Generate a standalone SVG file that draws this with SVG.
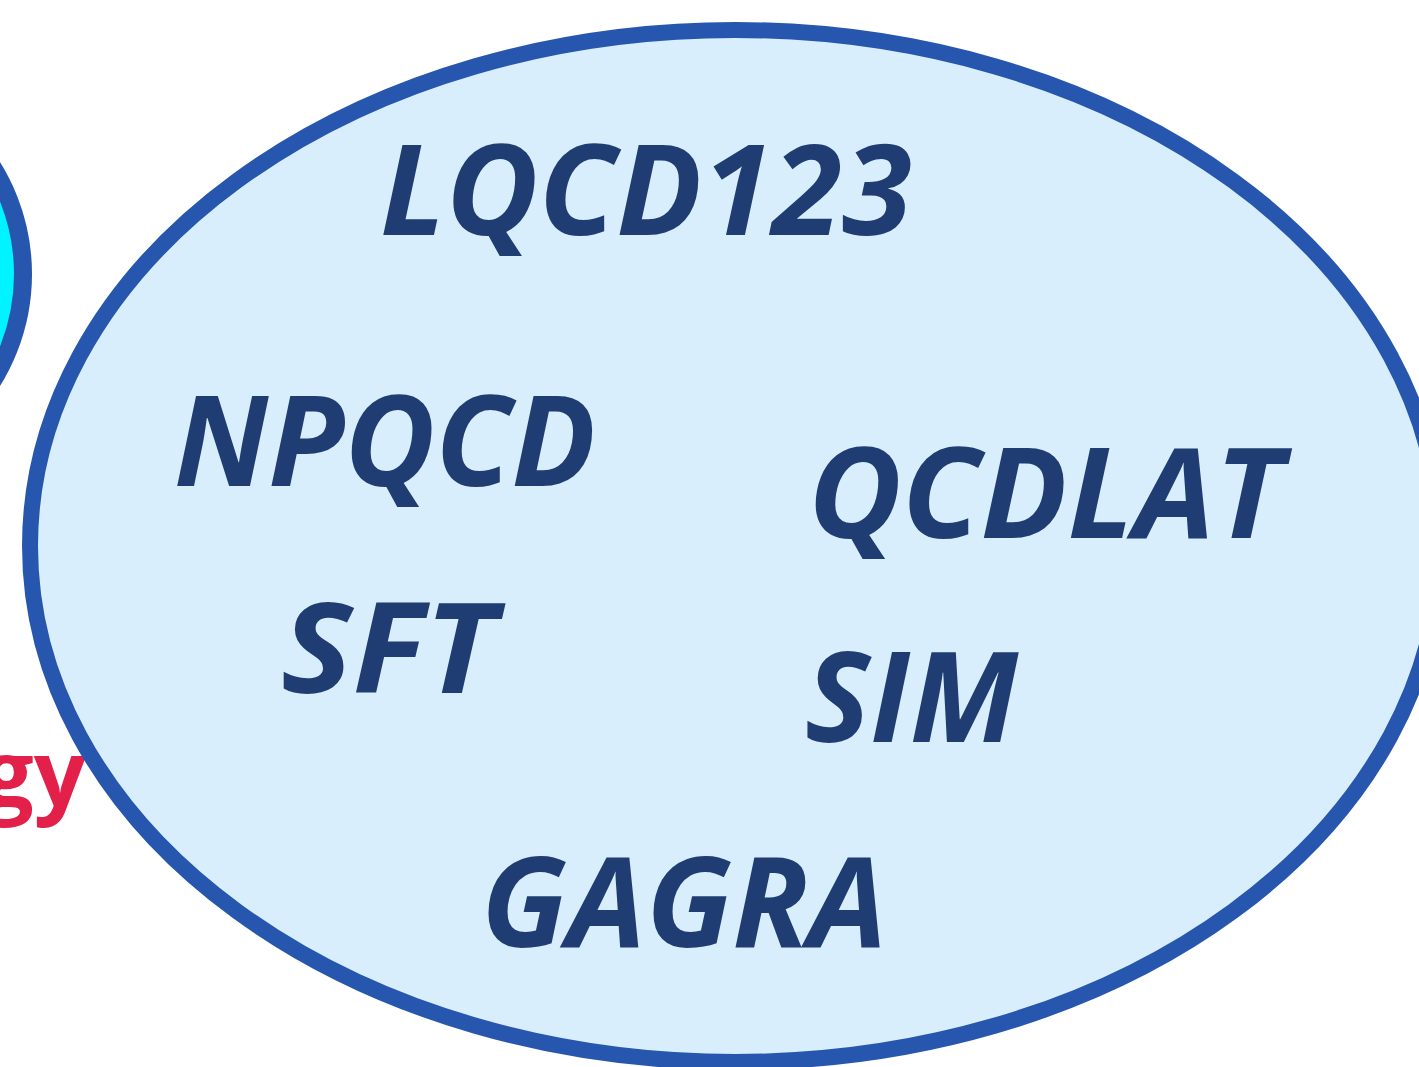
<svg xmlns="http://www.w3.org/2000/svg" width="1419" height="1067" viewBox="0 0 1419 1067">
<style>
.lbl{font-family:"Open Sans","Liberation Sans",sans-serif;font-weight:bold;font-style:italic;font-size:126px;fill:#1f3d73}
</style>
<rect width="1419" height="1067" fill="#ffffff"/>
<g id="left-node">
<circle cx="-180" cy="274" r="203" fill="#00f4ff" stroke="#2656ad" stroke-width="18"/>
</g>
<g id="left-label">
<text x="86" y="806" text-anchor="end" font-family="'Open Sans','Liberation Sans',sans-serif" font-weight="bold" font-size="92" fill="#e2204a">gy</text>
</g>
<g id="main">
<ellipse cx="735" cy="546" rx="705" ry="516" fill="#d8eefd" stroke="#2656ad" stroke-width="16"/>
</g>
<g id="connectors"></g>
<g id="labels">
<text id="lqcd123" class="lbl" x="380" y="235" textLength="532" lengthAdjust="spacingAndGlyphs">LQCD123</text>
<text id="npqcd" class="lbl" x="174" y="486" textLength="422" lengthAdjust="spacingAndGlyphs">NPQCD</text>
<text id="qcdlat" class="lbl" x="808" y="538" textLength="475" lengthAdjust="spacingAndGlyphs">QCDLAT</text>
<text id="sft" class="lbl" x="281" y="693" textLength="215" lengthAdjust="spacingAndGlyphs">SFT</text>
<text id="sim" class="lbl" x="805" y="742" textLength="213" lengthAdjust="spacingAndGlyphs">SIM</text>
<text id="gagra" class="lbl" x="481" y="947" textLength="406" lengthAdjust="spacingAndGlyphs">GAGRA</text>
</g>
</svg>
